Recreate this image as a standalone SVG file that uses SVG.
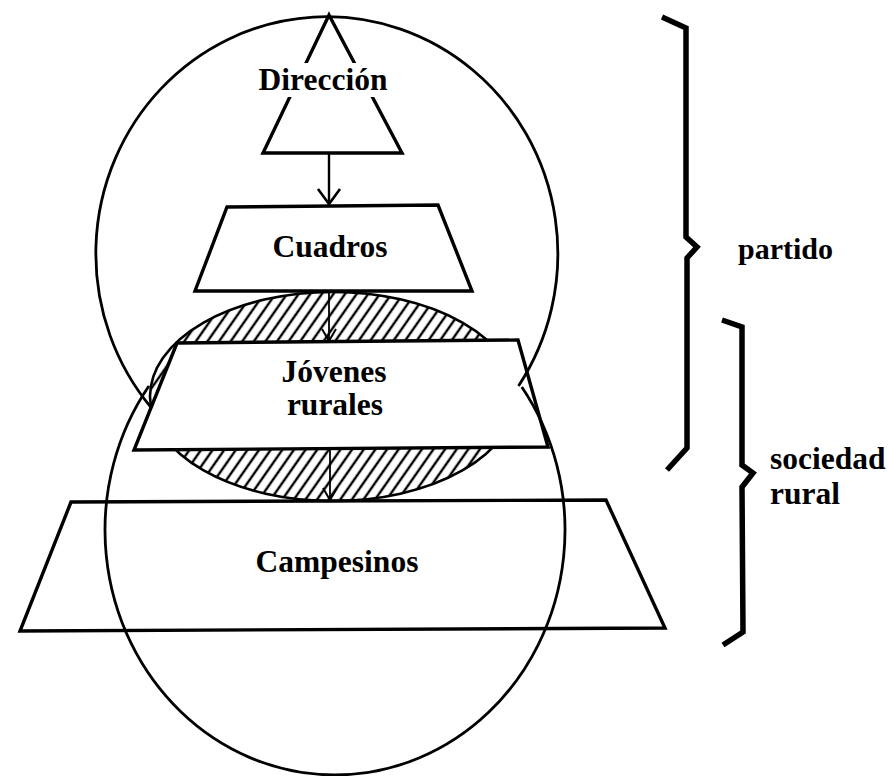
<svg xmlns="http://www.w3.org/2000/svg" width="888" height="776" viewBox="0 0 888 776">
  <style>
    .shape { fill: #fff; stroke: #000; stroke-width: 3.4; stroke-linejoin: miter; }
    .open { fill: none; stroke: #000; stroke-width: 3.4; }
    .ring { fill: none; stroke: #000; stroke-width: 2.8; }
    .brace { fill: none; stroke: #000; stroke-width: 5.5; stroke-linejoin: miter; stroke-linecap: butt; }
    .conn { fill: none; stroke: #000; stroke-width: 2.4; }
    .conn2 { fill: none; stroke: #000; stroke-width: 1.8; }
    .lbl { font-family: "Liberation Serif", "Times New Roman", serif; font-weight: bold; font-size: 31.5px; fill: #000; }
    .mid { text-anchor: middle; }
  </style>
  <defs>
    <pattern id="hatch" patternUnits="userSpaceOnUse" width="9.5" height="20" patternTransform="rotate(35)">
      <rect width="9.5" height="20" fill="#fff"/>
      <line x1="4.75" y1="-1" x2="4.75" y2="21" stroke="#000" stroke-width="2.4"/>
    </pattern>
    <marker id="arr" markerUnits="userSpaceOnUse" orient="auto" overflow="visible" markerWidth="30" markerHeight="30" refX="0" refY="0">
      <path d="M-15,-11 L0,0 L-15,11" fill="none" stroke="#000" stroke-width="2.6"/>
    </marker>
    <marker id="arrs" markerUnits="userSpaceOnUse" orient="auto" overflow="visible" markerWidth="30" markerHeight="30" refX="0" refY="0">
      <path d="M-12,-7 L0,0 L-12,7" fill="none" stroke="#000" stroke-width="2"/>
    </marker>
  </defs>

  <g id="node-hatched">
    <ellipse cx="333" cy="396.5" rx="183" ry="104.5" fill="url(#hatch)" stroke="#000" stroke-width="2.6"/>
  </g>

  <g id="node-jovenes">
    <polygon class="shape" points="177,343 518,340 548,447 134,450"/>
    <text class="lbl mid" x="334" y="382">Jóvenes</text>
    <text class="lbl mid" x="335" y="415">rurales</text>
  </g>

  <g id="node-partido-circle">
    <path class="ring" d="M151.5,408 A231,237 0 1,1 518.5,386"/>
  </g>
  <g id="node-sociedad-circle">
    <path class="ring" d="M148.9,386 A230,245 0 1,0 521.8,387"/>
  </g>

  <g id="node-cuadros">
    <polygon class="shape" points="227,207 438,205 472,291 195,291"/>
    <text class="lbl mid" x="330" y="257">Cuadros</text>
  </g>

  <g id="node-direccion">
    <polygon class="shape" points="329,15 402,153 263,153"/>
    <rect x="255" y="63" width="135" height="34" fill="#fff"/>
    <text class="lbl mid" x="323" y="90">Dirección</text>
  </g>

  <g id="node-campesinos">
    <polygon class="open" points="71,502 606,500 665,628 20,631"/>
    <text class="lbl mid" x="337" y="572">Campesinos</text>
  </g>

  <g id="connectors">
    <line class="conn" x1="329" y1="153" x2="329" y2="204" marker-end="url(#arr)"/>
    <line class="conn2" x1="329" y1="291" x2="329" y2="341" marker-end="url(#arrs)"/>
    <line class="conn2" x1="330" y1="450" x2="330" y2="500" marker-end="url(#arrs)"/>
  </g>

  <g id="brace-partido">
    <polyline class="brace" points="662,17 686,28 686,237 697,247 687,258 687,448 667,470"/>
    <text class="lbl" x="738" y="259" style="font-size:30px">partido</text>
  </g>

  <g id="brace-sociedad">
    <polyline class="brace" points="722,320 742,327 742,465 753,473 742,487 743,632 723,645"/>
    <text class="lbl" x="770" y="469">sociedad</text>
    <text class="lbl" x="770" y="504">rural</text>
  </g>
</svg>
